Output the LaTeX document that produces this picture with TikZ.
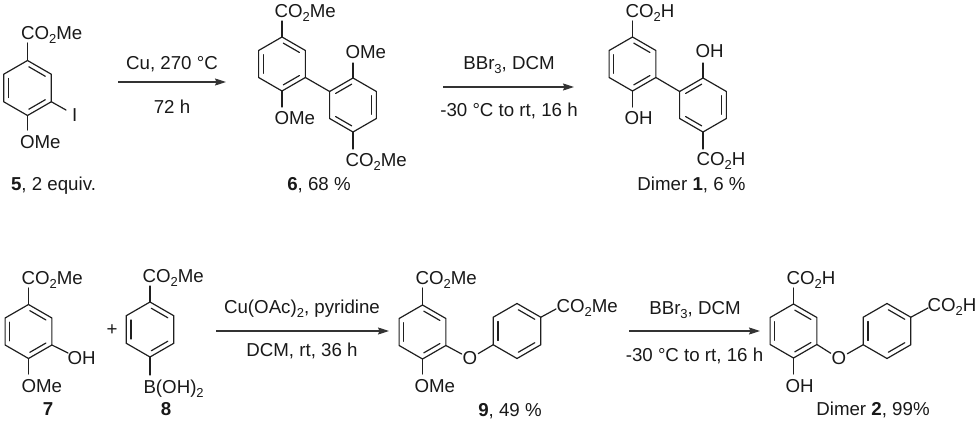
\documentclass[tikz,border=0pt]{standalone}
\usepackage{fontspec}
\setmainfont{Liberation Sans}
\usetikzlibrary{arrows.meta,calc}
\newcommand{\sbs}[1]{\raisebox{-.24em}{\fontsize{13}{13}\selectfont #1}}
\tikzset{
  bond/.style={line width=1.2pt,line cap=round,line join=round,color=black!88},
  innerbond/.style={bond,shorten <=1.5pt,shorten >=1.5pt},
  rxn/.style={line width=1.2pt,color=black!80,-{Stealth[length=11pt,width=7pt,inset=1.5pt]}},
  lab/.style={inner sep=0pt,outer sep=0pt,anchor=base west,yshift=-0.5pt,text=black!90,font=\fontsize{18.7}{21}\selectfont},
  captxt/.style={lab,anchor=base},
  atom/.style={lab,anchor=center,yshift=0pt,inner sep=1pt}
}
% ring: name, centre x, centre y, radius; vertices 1=top clockwise
\newcommand{\ring}[4]{%
  \coordinate (#1c) at (#2,#3);
  \coordinate (#11) at (#2,#3-#4);
  \coordinate (#12) at (#2+.866*#4,#3-.5*#4);
  \coordinate (#13) at (#2+.866*#4,#3+.5*#4);
  \coordinate (#14) at (#2,#3+#4);
  \coordinate (#15) at (#2-.866*#4,#3+.5*#4);
  \coordinate (#16) at (#2-.866*#4,#3-.5*#4);
  \draw[bond] (#11)--(#12)--(#13)--(#14)--(#15)--(#16)--cycle;}
\newcommand{\dbl}[3]{\draw[innerbond] ($(#1#2)!.2!(#1c)$) -- ($(#1#3)!.2!(#1c)$);}
\newcommand{\ringA}[4]{\ring{#1}{#2}{#3}{#4}\dbl{#1}{1}{2}\dbl{#1}{3}{4}\dbl{#1}{5}{6}}
\newcommand{\ringB}[4]{\ring{#1}{#2}{#3}{#4}\dbl{#1}{6}{1}\dbl{#1}{2}{3}\dbl{#1}{4}{5}}
% substituent bond: end name, ring vertex, end position
\newcommand{\sbond}[4]{\coordinate (#1) at (#3,#4); \draw[bond] (#2) -- (#1);}
\begin{document}
\begin{tikzpicture}[x=1pt,y=-1pt]
\useasboundingbox (0,0) rectangle (980,422);
% 5
\ringA{a}{27.5}{88}{27.5}
\sbond{a-t}{a1}{27.5}{43}
\sbond{a-i}{a3}{66}{110}
\sbond{a-b}{a4}{27.5}{130}
\node[lab] (t5a) at (21,39) {CO\sbs{2}Me};
\node[lab] (t5b) at (72,121) {I};
\node[lab] (t5c) at (20,148) {OMe};
\node[captxt] (t5d) at (53.5,190) {\textbf{5}, 2 equiv.};
% arrow 1
\coordinate (r1s) at (118,82); \coordinate (r1e) at (226,82);
\draw[rxn] (r1s) -- (r1e);
\node[captxt] (c1a) at (172,69) {Cu, 270 °C};
\node[captxt] (c1b) at (172,113) {72 h};
% 6
\ringA{b}{282}{64}{27}
\ringB{c}{353}{105}{27}
\draw[bond] (b3) -- (c6);
\sbond{b-t}{b1}{282}{21}
\sbond{b-b}{b4}{282}{107}
\sbond{c-t}{c1}{353}{63}
\sbond{c-b}{c4}{353}{149}
\node[lab] (t6a) at (274.5,17) {CO\sbs{2}Me};
\node[lab] (t6b) at (274.5,124) {OMe};
\node[lab] (t6c) at (345.5,58) {OMe};
\node[lab] (t6d) at (345.5,166) {CO\sbs{2}Me};
\node[captxt] (t6e) at (319,190) {\textbf{6}, 68 \%};
% arrow 2
\coordinate (r2s) at (443,87); \coordinate (r2e) at (574,87);
\draw[rxn] (r2s) -- (r2e);
\node[captxt] (c2a) at (509,69) {BBr\sbs{3}, DCM};
\node[captxt] (c2b) at (509,116) {-30 °C to rt, 16 h};
% Dimer 1
\ringA{d}{632.5}{64}{27}
\ringB{e}{703}{105}{27}
\draw[bond] (d3) -- (e6);
\sbond{d-t}{d1}{632.5}{21}
\sbond{d-b}{d4}{632.5}{107}
\sbond{e-t}{e1}{703}{63}
\sbond{e-b}{e4}{703}{149}
\node[lab] (t1a) at (625.5,17) {CO\sbs{2}H};
\node[lab] (t1b) at (624.5,124) {OH};
\node[lab] (t1c) at (695.5,57) {OH};
\node[lab] (t1d) at (696.5,165) {CO\sbs{2}H};
\node[captxt] (t1e) at (691.5,190) {Dimer \textbf{1}, 6 \%};
% 7
\ringA{f}{28.5}{331.5}{27}
\sbond{f-t}{f1}{28.5}{288}
\sbond{f-o}{f3}{68}{353}
\sbond{f-b}{f4}{28.5}{374}
\node[lab] (t7a) at (21.5,284) {CO\sbs{2}Me};
\node[lab] (t7b) at (67.5,364) {OH};
\node[lab] (t7c) at (21.5,392) {OMe};
\node[captxt] (t7d) at (48,415) {\textbf{7}};
\node[captxt] (plus) at (112,335) {+};
% 8
\ringA{g}{150}{329.5}{27.5}
\sbond{g-t}{g1}{150}{286}
\sbond{g-b}{g4}{150}{375}
\node[lab] (t8a) at (142.5,282) {CO\sbs{2}Me};
\node[lab] (t8b) at (143.5,393) {B(OH)\sbs{2}};
\node[captxt] (t8c) at (166,415) {\textbf{8}};
% arrow 3
\coordinate (r3s) at (216,331); \coordinate (r3e) at (389,331);
\draw[rxn] (r3s) -- (r3e);
\node[captxt] (c3a) at (302,313) {Cu(OAc)\sbs{2}, pyridine};
\node[captxt] (c3b) at (302,356) {DCM, rt, 36 h};
% 9
\ringA{h}{422.5}{332}{27}
\ringA{k}{517}{331}{27.5}
\node[atom] (o9) at (470,358) {O};
\draw[bond] (h3) -- (o9);
\draw[bond] (k5) -- (o9);
\sbond{h-t}{h1}{422.5}{288}
\sbond{h-b}{h4}{422.5}{374}
\sbond{k-r}{k2}{556}{309}
\node[lab] (t9a) at (415.5,284) {CO\sbs{2}Me};
\node[lab] (t9b) at (414.5,392) {OMe};
\node[lab] (t9c) at (556.5,312) {CO\sbs{2}Me};
\node[captxt] (t9d) at (510,416) {\textbf{9}, 49 \%};
% arrow 4
\coordinate (r4s) at (629,331); \coordinate (r4e) at (760,331);
\draw[rxn] (r4s) -- (r4e);
\node[captxt] (c4a) at (695,314) {BBr\sbs{3}, DCM};
\node[captxt] (c4b) at (694.5,361) {-30 °C to rt, 16 h};
% Dimer 2
\ringA{m}{793.5}{331}{27}
\ringA{n}{887}{331}{27.5}
\node[atom] (o2) at (839,358) {O};
\draw[bond] (m3) -- (o2);
\draw[bond] (n5) -- (o2);
\sbond{m-t}{m1}{793.5}{288}
\sbond{m-b}{m4}{793.5}{374}
\sbond{n-r}{n2}{928}{308}
\node[lab] (t2a) at (786.5,284) {CO\sbs{2}H};
\node[lab] (t2b) at (785.5,392) {OH};
\node[lab] (t2c) at (927.5,311) {CO\sbs{2}H};
\node[captxt] (t2d) at (873,415) {Dimer \textbf{2}, 99\%};
\end{tikzpicture}
\end{document}
